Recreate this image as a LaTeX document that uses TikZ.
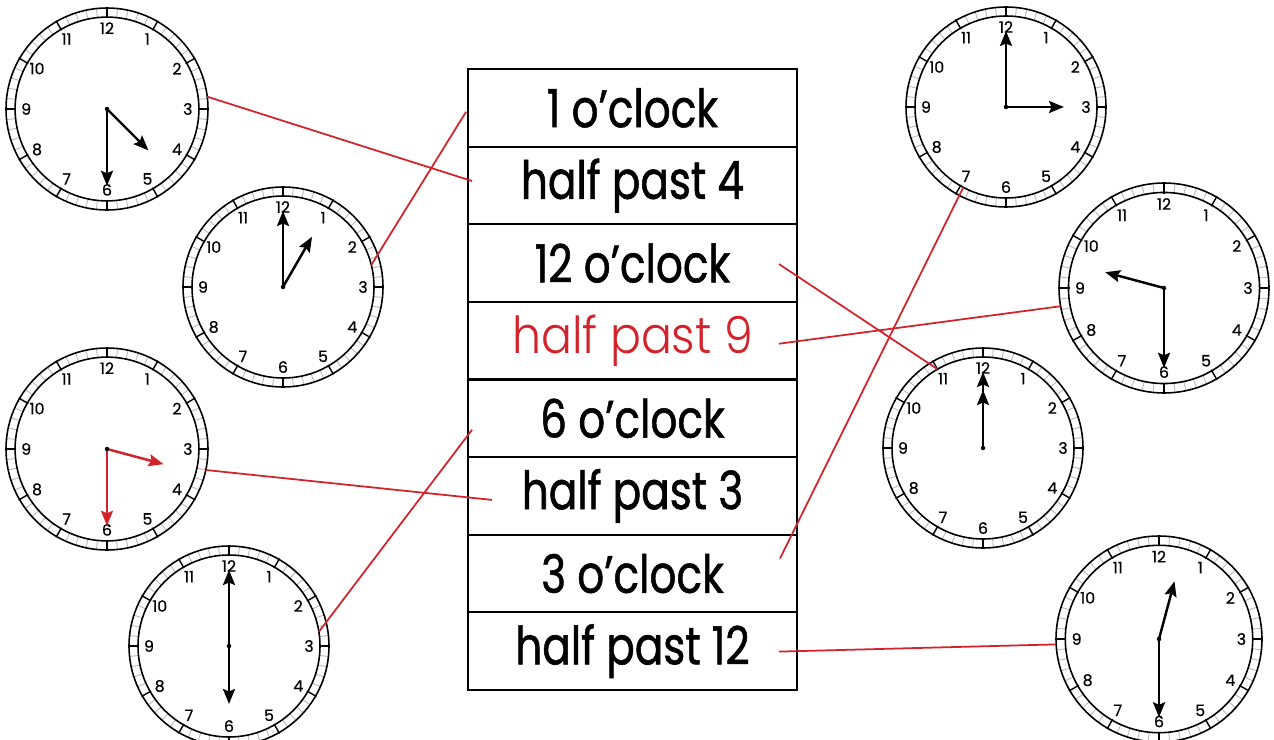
\documentclass[tikz,border=0pt]{standalone}
\usepackage{fontspec}
\setmainfont{Poppins}
\newfontfamily\cellfont[FakeStretch=0.8,FakeBold=1]{Poppins}
\newfontfamily\numfont[FakeBold=0.6]{Poppins}
\newfontfamily\thinfont[FakeStretch=0.9]{Poppins Light}
\usetikzlibrary{matrix,calc,arrows.meta}
\definecolor{linkred}{RGB}{210,35,42}
\newcommand{\px}{0.02cm}
\tikzset{
    clocksty/.style={draw,circle,line width=0.9pt,inner sep=0pt,outer sep=0pt},
    minsty/.style={draw=gray!55,line width=0.5pt},
    hoursty/.style={draw=black,line width=0.8pt},
    numsty/.style={font=\numfont\fontsize{9}{9}\selectfont,inner sep=0pt},
    handsty/.style={line width=1.4pt,-{Stealth[length=0.3cm,width=0.24cm,inset=0.05cm]}},
    cellsty/.style={draw,rectangle,line width=1.2pt,anchor=center,inner sep=0pt,outer sep=0pt,
                    minimum width=329*\px,minimum height=77.6*\px,
                    font=\cellfont\fontsize{30}{30}\selectfont},
    redcellsty/.style={text=linkred,font=\thinfont\fontsize{29}{29}\selectfont},
    linksty/.style={draw=linkred,line width=1pt},
}
% name, centre, radius, hour angle, minute angle, hand colour
\newcommand{\clockface}[6]{
  \begin{scope}[shift={(#2)}]
    \foreach \t in {0,6,...,354}
      \draw[minsty] (\t:0.91*#3) -- (\t:#3);
    \foreach \t in {0,30,...,330}
      \draw[hoursty] (\t:0.9*#3) -- (\t:1.01*#3);
    \foreach \k in {1,...,12}
      \node[numsty] at (\k*30-90:0.8*#3) {\k};
    \draw[handsty,#6] (0,0) -- (#4-90:0.58*#3);
    \draw[handsty,#6] (0,0) -- (#5-90:0.76*#3);
    \fill (0,0) circle[radius=0.045cm];
  \end{scope}
  \node[clocksty,minimum size=2*#3*\px] (#1) at (#2) {};
  \node[clocksty,minimum size=1.82*#3*\px] (#1i) at (#2) {};
}

\begin{document}
\begin{tikzpicture}[x=\px,y=-\px]
  \useasboundingbox (0,0) rectangle (1274,740);

  \matrix (T) [matrix of nodes, nodes={cellsty}, row sep=-1.2pt] at (632.5,379.5)
  {
    1 o’clock \\
    half past 4 \\
    12 o’clock \\
    |[redcellsty]| half past 9 \\
    6 o’clock \\
    half past 3 \\
    3 o’clock \\
    half past 12 \\
  };

  % left clocks
  \clockface{c1}{107,109}{101}{135}{180}{black}
  \clockface{c2}{283,287}{100}{30}{0}{black}
  \clockface{c3}{107,449}{101}{105}{180}{linkred}
  \clockface{c4}{229,646}{100}{180}{0}{black}
  % right clocks
  \clockface{c5}{1006,107}{100}{90}{0}{black}
  \clockface{c6}{1164,288}{105}{285}{180}{black}
  \clockface{c7}{983,448}{100}{0}{0}{black}
  \clockface{c8}{1159,639}{103}{15}{180}{black}

  % matching lines
  \draw[linksty] (c1.7) -- ($(T-2-1.west)+(4,-4.5)$);
  \draw[linksty] (c2i.14) -- ($(T-1-1.west)+(-2,4)$);
  \draw[linksty] ($(T-3-1.east)+(-18,1)$) -- (c7i.120);
  \draw[linksty] ($(T-4-1.east)+(-18,3)$) -- (c6.190);
  \draw[linksty] (c3.-12) -- ($(T-6-1.west)+(24,4)$);
  \draw[linksty] (c4i.9.5) -- ($(T-5-1.west)+(4,11.5)$);
  \draw[linksty] ($(T-7-1.east)+(-17,-15)$) -- (c5i.242);
  \draw[linksty] ($(T-8-1.east)+(-18,0.5)$) -- (c8.183);
\end{tikzpicture}
\end{document}
